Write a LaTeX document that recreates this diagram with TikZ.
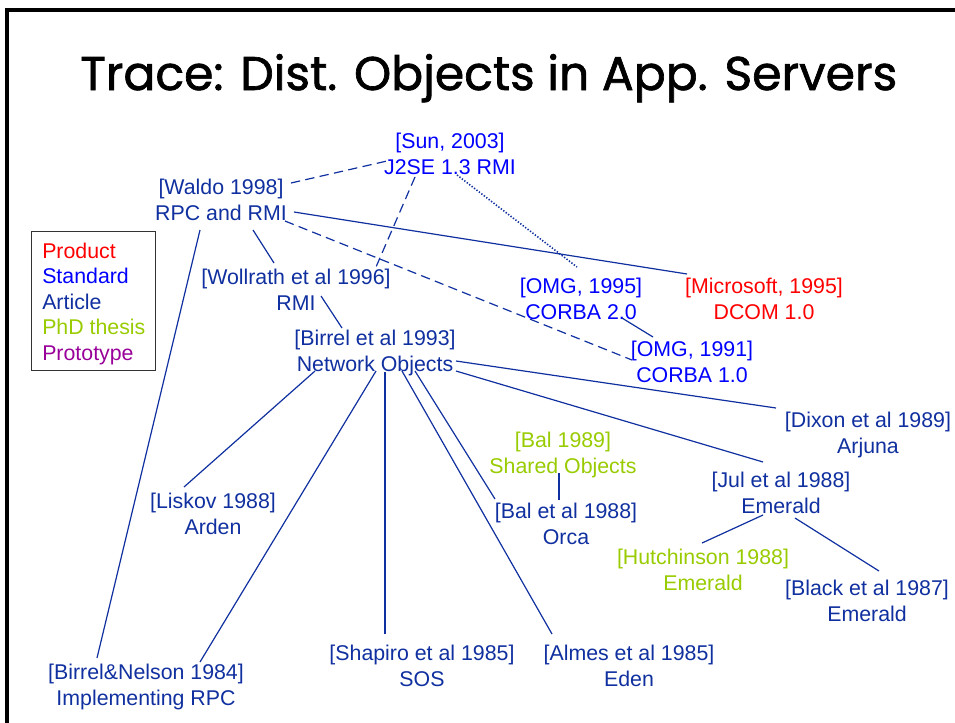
\documentclass[tikz,border=0pt]{standalone}
\usepackage{graphicx}
\usepackage{fontspec}
\setmainfont{Liberation Sans}
\newfontfamily\titlefont[FakeBold=1.4]{Poppins}
\usetikzlibrary{calc}
\definecolor{stdc}{RGB}{0,0,255}
\definecolor{artc}{RGB}{16,48,160}
\definecolor{phdc}{RGB}{153,204,0}
\definecolor{prodc}{RGB}{255,0,0}
\definecolor{protc}{RGB}{153,0,153}
\newcommand\mytwo[2]{\strut#1\\\strut#2}
\begin{document}
\begin{tikzpicture}[x=0.75pt,y=-0.75pt,
  ref/.style={align=center, inner sep=0pt, font=\fontsize{16}{19.5}\selectfont},
  art/.style={ref, text=artc},
  std/.style={ref, text=stdc},
  phd/.style={ref, text=phdc},
  prod/.style={ref, text=prodc},
  legtext/.style={anchor=base west, inner sep=0pt, font=\fontsize{16}{19.5}\selectfont},
  link/.style={draw=artc, line width=0.9pt},
  dashlink/.style={link, dash pattern=on 7pt off 4pt},
  dotlink/.style={link, line width=1.2pt, dash pattern=on 1pt off 1.3pt},
  frame/.style={draw=black, line width=2.3pt},
  legbox/.style={draw=black!80, line width=0.75pt}
]
\useasboundingbox (0,0) rectangle (955,722);
\fill[white] (0,0) rectangle (955,722);
\draw[frame] (7,730) -- (7,10) -- (960,10);

\node[anchor=base west, inner sep=0pt] (title) at (80,90)
  {\resizebox{612.75pt}{!}{\titlefont Trace: Dist. Objects in App. Servers}};

% legend
\draw[legbox] (31,231) rectangle (155,370);
\node[legtext, text=prodc] (lprod) at (42,258) {Product};
\node[legtext, text=stdc]  (lstd)  at (42,283) {Standard};
\node[legtext, text=artc]  (lart)  at (42,309) {Article};
\node[legtext, text=phdc]  (lphd)  at (42,334) {PhD thesis};
\node[legtext, text=protc] (lprot) at (42,360) {Prototype};

% nodes
\node[std]  (sun)      at (450,156) {\mytwo{[Sun, 2003]}{J2SE 1.3 RMI}};
\node[art]  (waldo)    at (221,202) {\mytwo{[Waldo 1998]}{RPC and RMI}};
\node[art]  (wollrath) at (296,292) {\mytwo{[Wollrath et al 1996]}{RMI}};
\node[art]  (birrel)   at (375,353) {\mytwo{[Birrel et al 1993]}{Network Objects}};
\node[std]  (omg95)    at (581,301) {\mytwo{[OMG, 1995]}{CORBA 2.0}};
\node[prod] (ms)       at (764,301) {\mytwo{[Microsoft, 1995]}{DCOM 1.0}};
\node[std]  (omg91)    at (692,364) {\mytwo{[OMG, 1991]}{CORBA 1.0}};
\node[art]  (dixon)    at (868,435) {\mytwo{[Dixon et al 1989]}{Arjuna}};
\node[phd]  (bal89)    at (563,455) {\mytwo{[Bal 1989]}{Shared Objects}};
\node[art]  (jul)      at (781,495) {\mytwo{[Jul et al 1988]}{Emerald}};
\node[art]  (liskov)   at (213,516) {\mytwo{[Liskov 1988]}{Arden}};
\node[art]  (bal88)    at (566,526) {\mytwo{[Bal et al 1988]}{Orca}};
\node[phd]  (hutch)    at (703,572) {\mytwo{[Hutchinson 1988]}{Emerald}};
\node[art]  (black)    at (867,603) {\mytwo{[Black et al 1987]}{Emerald}};
\node[art]  (bn84)     at (146,687) {\mytwo{[Birrel\&Nelson 1984]}{Implementing RPC}};
\node[art]  (shapiro)  at (422,668) {\mytwo{[Shapiro et al 1985]}{SOS}};
\node[art]  (almes)    at (629,668) {\mytwo{[Almes et al 1985]}{Eden}};

% connectors
\draw[dashlink] ([shift={(70,-19)}]waldo.center) -- ([shift={(-63,5)}]sun.center);
\draw[dashlink] ([shift={(-35,21)}]sun.center) -- ([shift={(80,-25)}]wollrath.center);
\draw[dotlink]  ([shift={(7,19)}]sun.center) -- ([shift={(-4,-34)}]omg95.center);
\draw[link]     ([shift={(73,10)}]waldo.center) -- ([shift={(-77,-27)}]ms.center);
\draw[dashlink] ([shift={(64,19)}]waldo.center) -- ([shift={(-60,-4)}]omg91.center);
\draw[link]     ([shift={(32,28)}]waldo.center) -- ([shift={(-22,-29)}]wollrath.center);
\draw[link]     ([shift={(-21,28)}]waldo.center) -- ([shift={(-49,-29)}]bn84.center);
\draw[link]     ([shift={(25,4)}]wollrath.center) -- ([shift={(-33,-25)}]birrel.center);
\draw[link]     ([shift={(41,17)}]omg95.center) -- ([shift={(-39,-27)}]omg91.center);
\draw[link]     ([shift={(81,8)}]birrel.center) -- ([shift={(-92,-27)}]dixon.center);
\draw[link]     ([shift={(81,18)}]birrel.center) -- ([shift={(-18,-33)}]jul.center);
\draw[link]     ([shift={(-60,18)}]birrel.center) -- ([shift={(-29,-29)}]liskov.center);
\draw[link]     ([shift={(1,18)}]birrel.center) -- ([shift={(54,-25)}]bn84.center);
\draw[link]     ([shift={(10,19)}]birrel.center) -- ([shift={(-37,-34)}]shapiro.center);
\draw[link]     ([shift={(27,18)}]birrel.center) -- ([shift={(-77,-34)}]almes.center);
\draw[link]     ([shift={(40,18)}]birrel.center) -- ([shift={(-71,-27)}]bal88.center);
\draw[link]     ([shift={(-4,18)}]bal89.center) -- ([shift={(-7,-26)}]bal88.center);
\draw[link]     ([shift={(-18,20)}]jul.center) -- ([shift={(-1,-29)}]hutch.center);
\draw[link]     ([shift={(14,23)}]jul.center) -- ([shift={(12,-32)}]black.center);
\end{tikzpicture}
\end{document}
